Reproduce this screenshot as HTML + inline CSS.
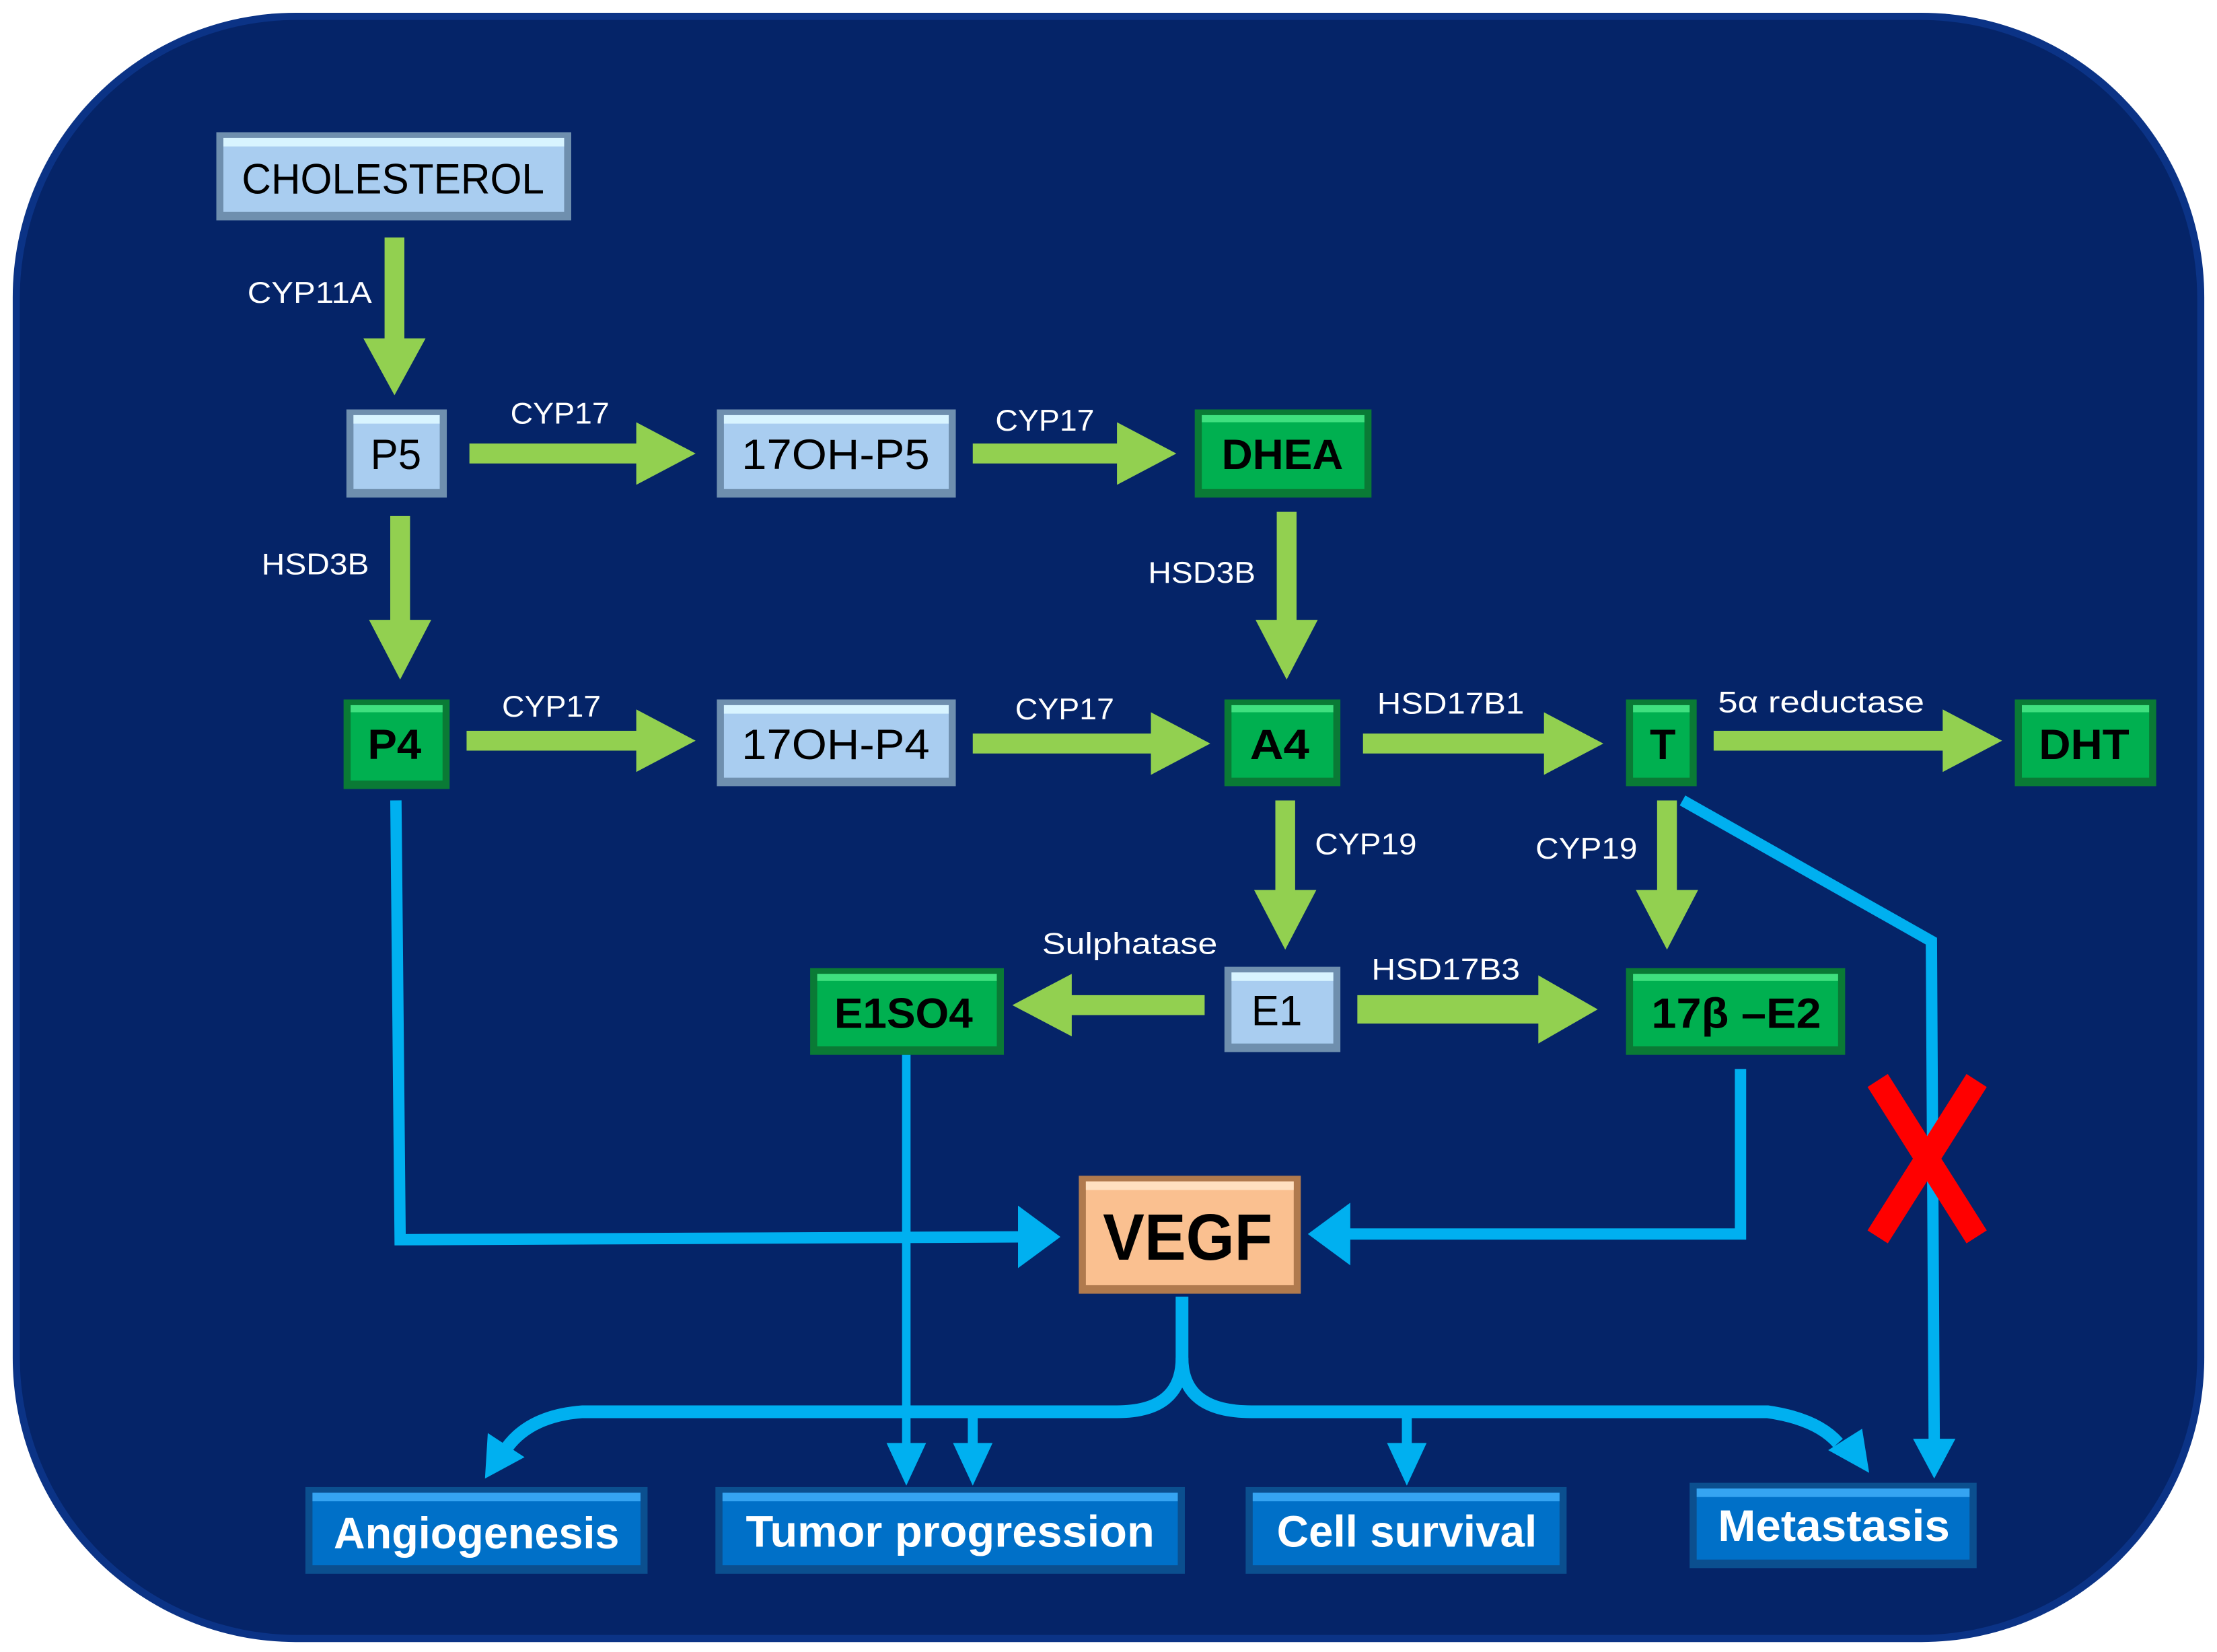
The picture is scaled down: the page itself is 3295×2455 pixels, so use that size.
<!DOCTYPE html>
<html><head><meta charset="utf-8"><style>
html,body{margin:0;padding:0;background:#fff;}
svg{display:block;}
text{font-family:"Liberation Sans",sans-serif;}
</style></head><body>
<svg width="3295" height="2455" viewBox="0 0 1568 1162" preserveAspectRatio="none" xmlns="http://www.w3.org/2000/svg">
<rect x="9" y="9" width="1550" height="1146" rx="200" ry="200" fill="#0b3386"/>
<rect x="14" y="14" width="1540" height="1136" rx="196" ry="196" fill="#052468"/>

<!-- green arrows -->
<g fill="#92d050">
<polygon points="272,167 286,167 286,238 301,238 279,278 257,238 272,238"/>
<polygon points="332,312 450,312 450,297 492,319 450,341 450,326 332,326"/>
<polygon points="688,312 790,312 790,297 832,319 790,341 790,326 688,326"/>
<polygon points="276,363 290,363 290,436 305,436 283,478 261,436 276,436"/>
<polygon points="903,360 917,360 917,436 932,436 910,478 888,436 903,436"/>
<polygon points="330,514 450,514 450,499 492,521 450,543 450,528 330,528"/>
<polygon points="688,516 814,516 814,501 856,523 814,545 814,530 688,530"/>
<polygon points="964,516 1092,516 1092,501 1134,523 1092,545 1092,530 964,530"/>
<polygon points="1212,514 1374,514 1374,499 1416,521 1374,543 1374,528 1212,528"/>
<polygon points="902,563 916,563 916,626 931,626 909,668 887,626 902,626"/>
<polygon points="1172,563 1186,563 1186,626 1201,626 1179,668 1157,626 1172,626"/>
<polygon points="852,700 758,700 758,685 716,707 758,729 758,714 852,714"/>
<polygon points="960,700 1088,700 1088,686 1130,710 1088,734 1088,720 960,720"/>
</g>

<!-- blue connectors -->
<g fill="none" stroke="#00b0f0" stroke-linejoin="miter">
<path d="M280,563 L283,872 L722,870" stroke-width="8"/>
<path d="M641,742 L641,1018" stroke-width="6"/>
<path d="M1231,752 L1231,868 L952,868" stroke-width="8"/>
<path d="M1190,563 L1366,662 L1368,1014" stroke-width="8"/>
<path d="M836,912 L836,955 Q836,993 790,993 L412,993 Q372,996 356,1022" stroke-width="9"/>
<path d="M836,955 Q836,993 885,993 L1250,993 Q1285,998 1300,1015" stroke-width="9"/>
<path d="M688,993 L688,1018" stroke-width="7"/>
<path d="M995,993 L995,1018" stroke-width="7"/>
</g>
<g fill="#00b0f0">
<polygon points="720,848 750,870 720,892"/>
<polygon points="627,1015 655,1015 641,1045"/>
<polygon points="955,846 925,868 955,890"/>
<polygon points="1353,1012 1383,1012 1368,1040"/>
<polygon points="343,1040 345,1008 371,1025"/>
<polygon points="1322,1036 1317,1005 1293,1020"/>
<polygon points="674,1015 702,1015 688,1045"/>
<polygon points="981,1015 1009,1015 995,1045"/>
</g>

<!-- red X -->
<g stroke="#ff0000" stroke-width="17">
<line x1="1328" y1="760" x2="1398" y2="870"/>
<line x1="1398" y1="760" x2="1328" y2="870"/>
</g>

<!-- light blue boxes -->
<g>
<rect x="153" y="93" width="251" height="62" fill="#6f8fae"/><rect x="158" y="97" width="241" height="52" fill="#a9cdf0"/><rect x="158" y="97" width="241" height="6" fill="#d8f4ff"/>
<rect x="245" y="288" width="71" height="62" fill="#6f8fae"/><rect x="250" y="292" width="61" height="52" fill="#a9cdf0"/><rect x="250" y="292" width="61" height="6" fill="#d8f4ff"/>
<rect x="507" y="288" width="169" height="62" fill="#6f8fae"/><rect x="512" y="292" width="159" height="52" fill="#a9cdf0"/><rect x="512" y="292" width="159" height="6" fill="#d8f4ff"/>
<rect x="507" y="492" width="169" height="61" fill="#6f8fae"/><rect x="512" y="496" width="159" height="51" fill="#a9cdf0"/><rect x="512" y="496" width="159" height="6" fill="#d8f4ff"/>
<rect x="866" y="680" width="82" height="60" fill="#6f8fae"/><rect x="871" y="684" width="72" height="50" fill="#a9cdf0"/><rect x="871" y="684" width="72" height="6" fill="#d8f4ff"/>
</g>
<!-- green boxes -->
<g>
<rect x="845" y="288" width="125" height="62" fill="#0a7a35"/><rect x="850" y="292" width="115" height="52" fill="#00b050"/><rect x="850" y="292" width="115" height="5" fill="#3fe07f"/>
<rect x="243" y="492" width="75" height="63" fill="#0a7a35"/><rect x="248" y="496" width="65" height="53" fill="#00b050"/><rect x="248" y="496" width="65" height="5" fill="#3fe07f"/>
<rect x="866" y="492" width="82" height="61" fill="#0a7a35"/><rect x="871" y="496" width="72" height="51" fill="#00b050"/><rect x="871" y="496" width="72" height="5" fill="#3fe07f"/>
<rect x="1150" y="492" width="50" height="61" fill="#0a7a35"/><rect x="1155" y="496" width="40" height="51" fill="#00b050"/><rect x="1155" y="496" width="40" height="5" fill="#3fe07f"/>
<rect x="1425" y="492" width="100" height="61" fill="#0a7a35"/><rect x="1430" y="496" width="90" height="51" fill="#00b050"/><rect x="1430" y="496" width="90" height="5" fill="#3fe07f"/>
<rect x="573" y="681" width="137" height="61" fill="#0a7a35"/><rect x="578" y="685" width="127" height="51" fill="#00b050"/><rect x="578" y="685" width="127" height="5" fill="#3fe07f"/>
<rect x="1150" y="681" width="155" height="61" fill="#0a7a35"/><rect x="1155" y="685" width="145" height="51" fill="#00b050"/><rect x="1155" y="685" width="145" height="5" fill="#3fe07f"/>
</g>
<!-- VEGF -->
<rect x="763" y="827" width="157" height="83" fill="#b07a4e"/><rect x="768" y="831" width="147" height="73" fill="#fac090"/><rect x="768" y="831" width="147" height="6" fill="#ffe0c0"/>
<!-- blue outcome boxes -->
<g>
<rect x="216" y="1046" width="242" height="61" fill="#0b4f8f"/><rect x="221" y="1050" width="232" height="51" fill="#0070c8"/><rect x="221" y="1050" width="232" height="6" fill="#35a4f2"/>
<rect x="506" y="1046" width="332" height="61" fill="#0b4f8f"/><rect x="511" y="1050" width="322" height="51" fill="#0070c8"/><rect x="511" y="1050" width="322" height="6" fill="#35a4f2"/>
<rect x="881" y="1046" width="227" height="61" fill="#0b4f8f"/><rect x="886" y="1050" width="217" height="51" fill="#0070c8"/><rect x="886" y="1050" width="217" height="6" fill="#35a4f2"/>
<rect x="1195" y="1043" width="203" height="60" fill="#0b4f8f"/><rect x="1200" y="1047" width="193" height="50" fill="#0070c8"/><rect x="1200" y="1047" width="193" height="6" fill="#35a4f2"/>
</g>

<!-- box text -->
<g fill="#000" text-anchor="middle" font-size="30">
<text x="278" y="136" textLength="214" lengthAdjust="spacingAndGlyphs">CHOLESTEROL</text>
<text x="280" y="330" textLength="36" lengthAdjust="spacingAndGlyphs">P5</text>
<text x="591" y="330" textLength="133" lengthAdjust="spacingAndGlyphs">17OH-P5</text>
<text x="591" y="534" textLength="133" lengthAdjust="spacingAndGlyphs">17OH-P4</text>
<text x="903" y="721" textLength="36" lengthAdjust="spacingAndGlyphs">E1</text>
</g>
<g fill="#000" text-anchor="middle" font-size="30" font-weight="bold">
<text x="907" y="330" textLength="86" lengthAdjust="spacingAndGlyphs">DHEA</text>
<text x="279" y="534" textLength="38" lengthAdjust="spacingAndGlyphs">P4</text>
<text x="905" y="534" textLength="42" lengthAdjust="spacingAndGlyphs">A4</text>
<text x="1176" y="534">T</text>
<text x="1474" y="534" textLength="64" lengthAdjust="spacingAndGlyphs">DHT</text>
<text x="639" y="723" textLength="98" lengthAdjust="spacingAndGlyphs">E1SO4</text>
<text x="1228" y="723" textLength="120" lengthAdjust="spacingAndGlyphs">17β –E2</text>
<text x="840" y="886" font-size="46" textLength="120" lengthAdjust="spacingAndGlyphs">VEGF</text>
</g>
<g fill="#fff" text-anchor="middle" font-size="31" font-weight="bold">
<text x="337" y="1089" textLength="202" lengthAdjust="spacingAndGlyphs">Angiogenesis</text>
<text x="672" y="1088" textLength="289" lengthAdjust="spacingAndGlyphs">Tumor progression</text>
<text x="995" y="1088" textLength="184" lengthAdjust="spacingAndGlyphs">Cell survival</text>
<text x="1297" y="1084" textLength="164" lengthAdjust="spacingAndGlyphs">Metastasis</text>
</g>

<!-- enzyme labels -->
<g fill="#fff" font-size="21">
<text x="175" y="213" textLength="88" lengthAdjust="spacingAndGlyphs">CYP11A</text>
<text x="361" y="298" textLength="70" lengthAdjust="spacingAndGlyphs">CYP17</text>
<text x="704" y="303" textLength="70" lengthAdjust="spacingAndGlyphs">CYP17</text>
<text x="185" y="404" textLength="76" lengthAdjust="spacingAndGlyphs">HSD3B</text>
<text x="812" y="410" textLength="76" lengthAdjust="spacingAndGlyphs">HSD3B</text>
<text x="355" y="504" textLength="70" lengthAdjust="spacingAndGlyphs">CYP17</text>
<text x="718" y="506" textLength="70" lengthAdjust="spacingAndGlyphs">CYP17</text>
<text x="974" y="502" textLength="104" lengthAdjust="spacingAndGlyphs">HSD17B1</text>
<text x="1215" y="501" textLength="146" lengthAdjust="spacingAndGlyphs">5α reductase</text>
<text x="930" y="601" textLength="72" lengthAdjust="spacingAndGlyphs">CYP19</text>
<text x="1086" y="604" textLength="72" lengthAdjust="spacingAndGlyphs">CYP19</text>
<text x="737" y="671" textLength="124" lengthAdjust="spacingAndGlyphs">Sulphatase</text>
<text x="970" y="689" textLength="105" lengthAdjust="spacingAndGlyphs">HSD17B3</text>
</g>
</svg>
</body></html>
